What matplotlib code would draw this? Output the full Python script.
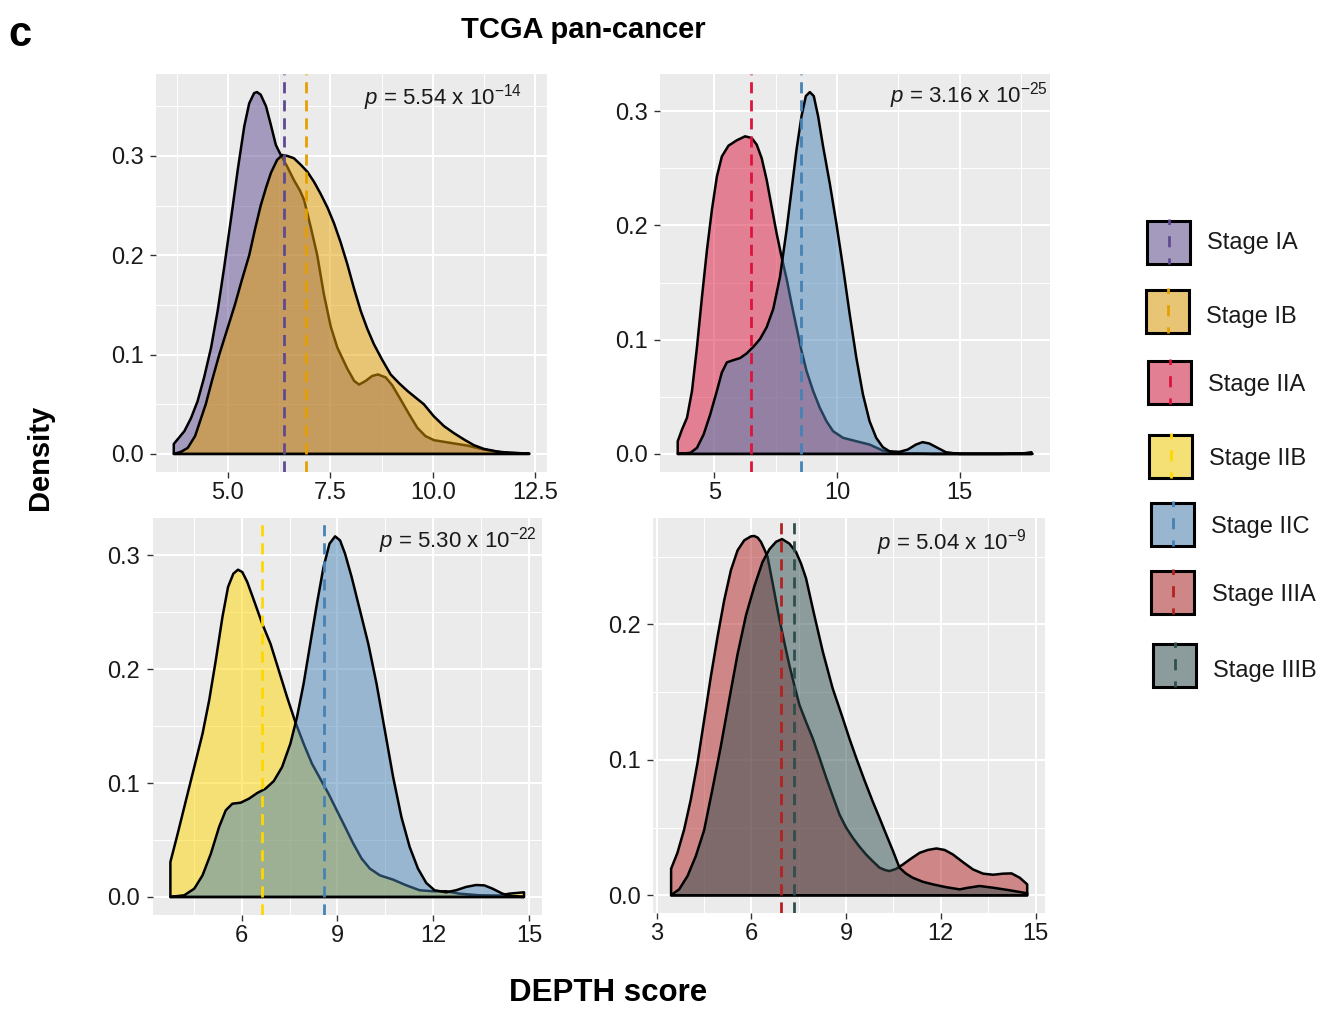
import matplotlib
matplotlib.use('Agg')
import matplotlib.pyplot as plt
import matplotlib.colors as mcolors
from matplotlib.patches import Rectangle
from matplotlib.ticker import MultipleLocator, AutoMinorLocator, FormatStrFormatter

plt.rcParams['font.family'] = ['Liberation Sans', 'DejaVu Sans']
plt.rcParams['mathtext.fontset'] = 'custom'
plt.rcParams['mathtext.rm'] = 'Liberation Sans'
plt.rcParams['mathtext.it'] = 'Liberation Sans:italic'

# 分期名称与颜色
stages = ['Stage IA', 'Stage IB', 'Stage IIA', 'Stage IIB', 'Stage IIC', 'Stage IIIA', 'Stage IIIB']
stage_colors = ['#5F4A91', '#E69F00', '#DC143C', '#FFD700', '#4682B4', '#B22222', '#2F4F4F']

# 面板1: Stage IA vs Stage IB（密度曲线读取自原图）
ia_x = [3.68, 3.77, 3.94, 4.10, 4.26, 4.42, 4.59, 4.75, 4.91, 5.07, 5.24, 5.40, 5.52, 5.64, 5.71,
        5.80, 5.93, 6.05, 6.17, 6.29, 6.45, 6.61, 6.76, 6.86, 7.02, 7.18, 7.34, 7.51, 7.67, 7.91,
        8.08, 8.20, 8.36, 8.52, 8.66, 8.85, 9.01, 9.21, 9.42, 9.62, 9.82, 10.03, 10.43, 10.84,
        11.24, 11.65, 12.35]
ia_y = [0.010, 0.0145, 0.023, 0.036, 0.053, 0.077, 0.107, 0.144, 0.188, 0.235, 0.286, 0.330, 0.353,
        0.3633, 0.3643, 0.3617, 0.350, 0.331, 0.311, 0.301, 0.289, 0.2757, 0.265, 0.2555, 0.2285,
        0.200, 0.161, 0.128, 0.107, 0.086, 0.0735, 0.0698, 0.0735, 0.0785, 0.080, 0.077, 0.069,
        0.055, 0.040, 0.0263, 0.0179, 0.0138, 0.0111, 0.0084, 0.0044, 0.0017, 0.0003]
ib_x = [3.68, 3.85, 4.02, 4.20, 4.46, 4.62, 4.79, 4.98, 5.17, 5.34, 5.52, 5.66, 5.80, 5.93, 6.05,
        6.20, 6.33, 6.45, 6.61, 6.78, 6.94, 7.10, 7.26, 7.43, 7.59, 7.75, 7.91, 8.08, 8.24, 8.40,
        8.56, 8.76, 8.97, 9.18, 9.38, 9.54, 9.78, 10.02, 10.27, 10.51, 10.76, 11.00, 11.24, 11.57,
        11.89, 12.35]
ib_y = [0.0, 0.002, 0.006, 0.018, 0.050, 0.075, 0.100, 0.125, 0.150, 0.175, 0.200, 0.226, 0.250,
        0.268, 0.283, 0.296, 0.301, 0.300, 0.2977, 0.291, 0.284, 0.274, 0.262, 0.248, 0.232, 0.213,
        0.1915, 0.166, 0.144, 0.126, 0.1106, 0.095, 0.080, 0.071, 0.0634, 0.058, 0.050, 0.038,
        0.028, 0.021, 0.0145, 0.0088, 0.0051, 0.0024, 0.0010, 0.0003]

# 面板2: Stage IIA vs Stage IIC
iia_x = [3.514, 3.689, 3.892, 4.095, 4.297, 4.500, 4.703, 4.905, 5.108, 5.311, 5.581, 5.919, 6.257,
         6.527, 6.730, 6.932, 7.135, 7.338, 7.541, 7.743, 7.946, 8.149, 8.351, 8.554, 8.757, 9.027,
         9.297, 9.568, 9.838, 10.243, 10.784, 11.324, 11.865, 12.541, 13.89, 17.95]
iia_y = [0.0111, 0.0214, 0.0317, 0.0551, 0.0933, 0.1372, 0.1783, 0.2135, 0.2428, 0.2604, 0.2698,
         0.2745, 0.2780, 0.2765, 0.2707, 0.2589, 0.2399, 0.2164, 0.1930, 0.1724, 0.1534, 0.1314,
         0.1108, 0.0903, 0.0727, 0.0551, 0.0405, 0.0287, 0.0199, 0.0141, 0.0111, 0.0082, 0.0029,
         0.0006, 0.0, 0.0]
iic_a_x = [3.514, 4.027, 4.297, 4.568, 4.838, 5.108, 5.311, 5.514, 5.784, 6.054, 6.324, 6.595, 6.865,
           7.135, 7.405, 7.676, 7.946, 8.149, 8.351, 8.554, 8.730, 8.892, 9.054, 9.230, 9.432, 9.703,
           9.973, 10.243, 10.514, 10.784, 11.054, 11.324, 11.595, 11.865, 12.135, 12.541, 12.878,
           13.216, 13.486, 13.757, 14.095, 14.432, 14.973, 16.6, 17.54, 17.92]
iic_a_y = [0.0, 0.0009, 0.0053, 0.0170, 0.0346, 0.0551, 0.0713, 0.0801, 0.0821, 0.0839, 0.0880,
           0.0938, 0.1006, 0.1109, 0.1270, 0.1548, 0.1959, 0.2311, 0.2663, 0.2956, 0.3132, 0.3167,
           0.3132, 0.2956, 0.2692, 0.2370, 0.2018, 0.1636, 0.1226, 0.0845, 0.0522, 0.0287, 0.0141,
           0.0059, 0.0023, 0.0018, 0.0038, 0.0082, 0.0103, 0.0091, 0.0053, 0.0015, 0.0, 0.0, 0.0003,
           0.0015]

# 面板3: Stage IIB vs Stage IIC
iib_x = [3.768, 3.997, 4.256, 4.516, 4.775, 4.983, 5.190, 5.398, 5.574, 5.740, 5.886, 6.021, 6.176,
         6.384, 6.644, 6.903, 7.163, 7.422, 7.682, 7.941, 8.201, 8.460, 8.720, 8.979, 9.239, 9.498,
         9.758, 10.017, 10.329, 10.744, 11.159, 11.575, 11.990, 12.405, 12.820, 13.443, 14.066,
         14.377, 14.844]
iib_y = [0.0307, 0.0556, 0.0849, 0.1141, 0.1434, 0.1727, 0.2078, 0.2458, 0.2722, 0.2839, 0.2874,
         0.2853, 0.2766, 0.2605, 0.2400, 0.2224, 0.1990, 0.1756, 0.1536, 0.1346, 0.1171, 0.1039,
         0.0907, 0.0761, 0.0615, 0.0468, 0.0337, 0.0249, 0.0190, 0.0152, 0.0102, 0.0059, 0.0050,
         0.0050, 0.0029, 0.0015, 0.0012, 0.0029, 0.0041]
iic_b_x = [3.768, 4.204, 4.516, 4.775, 5.035, 5.294, 5.502, 5.709, 5.969, 6.228, 6.488, 6.747, 7.007,
           7.266, 7.526, 7.734, 7.941, 8.149, 8.357, 8.564, 8.751, 8.927, 9.083, 9.239, 9.446, 9.706,
           9.966, 10.225, 10.485, 10.744, 11.004, 11.263, 11.523, 11.782, 12.042, 12.405, 12.716,
           13.028, 13.339, 13.599, 13.858, 14.170, 14.481, 14.844]
iic_b_y = [0.0, 0.0015, 0.0073, 0.0190, 0.0380, 0.0615, 0.0761, 0.0819, 0.0828, 0.0863, 0.0913,
           0.0951, 0.1018, 0.1141, 0.1346, 0.1580, 0.1873, 0.2224, 0.2575, 0.2897, 0.3102, 0.3167,
           0.3131, 0.3014, 0.2809, 0.2517, 0.2224, 0.1873, 0.1463, 0.1054, 0.0702, 0.0439, 0.0249,
           0.0123, 0.0059, 0.0041, 0.0059, 0.0088, 0.0105, 0.0102, 0.0073, 0.0029, 0.0006, 0.0]

# 面板4: Stage IIIA vs Stage IIIB
iiia_x = [3.455, 3.656, 3.868, 4.079, 4.291, 4.503, 4.714, 4.926, 5.138, 5.349, 5.561, 5.772, 5.984,
          6.09, 6.20, 6.302, 6.40, 6.51, 6.70, 6.88, 7.04, 7.20, 7.36, 7.52, 7.73, 7.94, 8.15, 8.37,
          8.58, 8.79, 9.00, 9.21, 9.42, 9.63, 9.85, 10.06, 10.22, 10.37, 10.58, 10.80, 11.05, 11.33,
          11.59, 11.86, 12.12, 12.38, 12.70, 13.02, 13.34, 13.66, 13.97, 14.24, 14.50, 14.736]
iiia_y = [0.0196, 0.0314, 0.0486, 0.0707, 0.0977, 0.1296, 0.1615, 0.1909, 0.2179, 0.2400, 0.2547,
          0.2621, 0.2650, 0.2653, 0.2640, 0.2609, 0.256, 0.250, 0.227, 0.2045, 0.187, 0.170, 0.155,
          0.1406, 0.128, 0.116, 0.102, 0.0867, 0.073, 0.0596, 0.050, 0.0425, 0.036, 0.0302, 0.025,
          0.0204, 0.0188, 0.0179, 0.0195, 0.0228, 0.027, 0.0314, 0.0335, 0.0346, 0.0335, 0.0302,
          0.0245, 0.0191, 0.0160, 0.0152, 0.0160, 0.0162, 0.0130, 0.0081]
iiib_x = [3.455, 3.709, 3.974, 4.238, 4.50, 4.77, 5.03, 5.30, 5.56, 5.83, 6.09, 6.35, 6.57, 6.78,
          6.97, 7.20, 7.41, 7.57, 7.73, 7.99, 8.26, 8.57, 8.89, 9.10, 9.32, 9.58, 9.84, 10.06, 10.27,
          10.48, 10.69, 10.90, 11.11, 11.43, 11.75, 12.17, 12.6, 12.81, 13.23, 13.66, 14.19, 14.736]
iiib_y = [0.0002, 0.0044, 0.0142, 0.029, 0.048, 0.079, 0.110, 0.145, 0.178, 0.207, 0.228, 0.246,
          0.2555, 0.261, 0.263, 0.2597, 0.2536, 0.245, 0.234, 0.207, 0.180, 0.153, 0.131, 0.116,
          0.1014, 0.085, 0.0694, 0.057, 0.0449, 0.033, 0.0204, 0.0160, 0.0130, 0.0100, 0.0081,
          0.006, 0.0044, 0.0054, 0.0069, 0.0056, 0.0037, 0.0015]

# 各分期均值（虚线位置）
mean_ia, mean_ib = 6.38, 6.91
mean_iia, mean_iic_a = 6.50, 8.55
mean_iib, mean_iic_b = 6.63, 8.57
mean_iiia, mean_iiib = 6.95, 7.34

p_labels = [r'$\mathit{p}$ = 5.54 x 10$^{-14}$', r'$\mathit{p}$ = 3.16 x 10$^{-25}$',
            r'$\mathit{p}$ = 5.30 x 10$^{-22}$', r'$\mathit{p}$ = 5.04 x 10$^{-9}$']

W, H = 1323, 1014
fig = plt.figure(figsize=(W / 100, H / 100), dpi=100)
fig.patch.set_facecolor('white')


def px_axes(left, top, right, bottom):
    return fig.add_axes([left / W, 1 - bottom / H, (right - left) / W, (bottom - top) / H])


def density_panel(ax, curves, means, x_step, x_fmt, y_max_tick, p_text, p_pos):
    ax.set_facecolor('#EBEBEB')
    xs_all, ys_all = [], []
    for xs, ys, ci in curves:
        px = [xs[0]] + list(xs) + [xs[-1]]
        py = [0.0] + list(ys) + [0.0]
        ax.fill(px, py, facecolor=mcolors.to_rgba(stage_colors[ci], 0.5),
                edgecolor='black', linewidth=1.8, joinstyle='round', zorder=2)
        xs_all += list(xs)
        ys_all += list(ys)
    for m, ci in means:
        ax.axvline(m, color=stage_colors[ci], linewidth=2.0, linestyle=(0, (4, 2.5)), zorder=3)
    # ggplot 风格的 5% 扩展
    x0, x1 = min(xs_all), max(xs_all)
    ytop = max(ys_all)
    ax.set_xlim(x0 - 0.05 * (x1 - x0), x1 + 0.05 * (x1 - x0))
    ax.set_ylim(-0.05 * ytop, ytop * 1.05)
    ax.xaxis.set_major_locator(MultipleLocator(x_step))
    ax.xaxis.set_minor_locator(AutoMinorLocator(2))
    ax.xaxis.set_major_formatter(FormatStrFormatter(x_fmt))
    ax.set_yticks([t / 10 for t in range(int(round(y_max_tick * 10)) + 1)])
    ax.yaxis.set_minor_locator(AutoMinorLocator(2))
    ax.yaxis.set_major_formatter(FormatStrFormatter('%.1f'))
    ax.grid(which='major', color='white', linewidth=1.5, zorder=0)
    ax.grid(which='minor', color='white', linewidth=0.7, zorder=0)
    ax.set_axisbelow(True)
    for s in ax.spines.values():
        s.set_visible(False)
    ax.tick_params(which='major', length=4, width=1.0, color='#333333', labelsize=17,
                   labelcolor='#1a1a1a', pad=3)
    ax.tick_params(axis='y', which='major', pad=5)
    ax.tick_params(which='minor', length=0)
    ax.text(p_pos[0], p_pos[1], p_text, transform=ax.transAxes, ha='right', va='center',
            fontsize=16, color='#1a1a1a', zorder=5)


ax1 = px_axes(156, 74, 547, 472)
density_panel(ax1, [(ia_x, ia_y, 0), (ib_x, ib_y, 1)], [(mean_ia, 0), (mean_ib, 1)],
              2.5, '%.1f', 0.3, p_labels[0], (0.935, 0.942))

ax2 = px_axes(660, 74, 1050, 472)
density_panel(ax2, [(iia_x, iia_y, 2), (iic_a_x, iic_a_y, 4)], [(mean_iia, 2), (mean_iic_a, 4)],
              5, '%d', 0.3, p_labels[1], (0.995, 0.947))

ax3 = px_axes(152.7, 518.3, 541.7, 915)
density_panel(ax3, [(iib_x, iib_y, 3), (iic_b_x, iic_b_y, 4)], [(mean_iib, 3), (mean_iic_b, 4)],
              3, '%d', 0.3, p_labels[2], (0.988, 0.945))

ax4 = px_axes(653.3, 518, 1045, 913.3)
density_panel(ax4, [(iiia_x, iiia_y, 5), (iiib_x, iiib_y, 6)], [(mean_iiia, 5), (mean_iiib, 6)],
              3, '%d', 0.2, p_labels[3], (0.951, 0.937))

# 标题与轴标题
fig.text(583 / W, 1 - 30 / H, 'TCGA pan-cancer', ha='center', va='center',
         fontsize=21, fontweight='bold')
fig.text(8 / W, 1 - 35 / H, 'c', ha='left', va='center', fontsize=30, fontweight='bold')
fig.text(40 / W, 1 - 457 / H, 'Density', ha='center', va='center', rotation=90,
         fontsize=21, fontweight='bold')
fig.text(608 / W, 1 - 993 / H, 'DEPTH score', ha='center', va='center',
         fontsize=22.5, fontweight='bold')

# 图例（手工绘制，位置按原图）
lg = fig.add_axes([0, 0, 1, 1], zorder=10)
lg.set_xlim(0, W)
lg.set_ylim(H, 0)
lg.axis('off')
key_left = [1147, 1146, 1148, 1149, 1151, 1151, 1153]
key_top = [221, 290, 361, 435, 503, 571, 644]
key_size = 43
text_left = [1207, 1206, 1208, 1209, 1211, 1212, 1213]
text_mid = [242, 316, 383, 458, 525, 593, 670]
for i, name in enumerate(stages):
    x0, y0 = key_left[i], key_top[i]
    lg.add_patch(Rectangle((x0, y0), key_size, key_size, facecolor='#EBEBEB', edgecolor='none'))
    lg.add_patch(Rectangle((x0, y0), key_size, key_size,
                           facecolor=mcolors.to_rgba(stage_colors[i], 0.5),
                           edgecolor='black', linewidth=2.2))
    lg.plot([x0 + key_size / 2] * 2, [y0 - 2, y0 + key_size], color=stage_colors[i],
            linewidth=2.0, linestyle=(2, (4, 4)))
    lg.text(text_left[i], text_mid[i] + 7.5, name, ha='left', va='baseline',
            fontsize=17, color='#1a1a1a')

plt.savefig('out.png', dpi=100)
plt.close()
